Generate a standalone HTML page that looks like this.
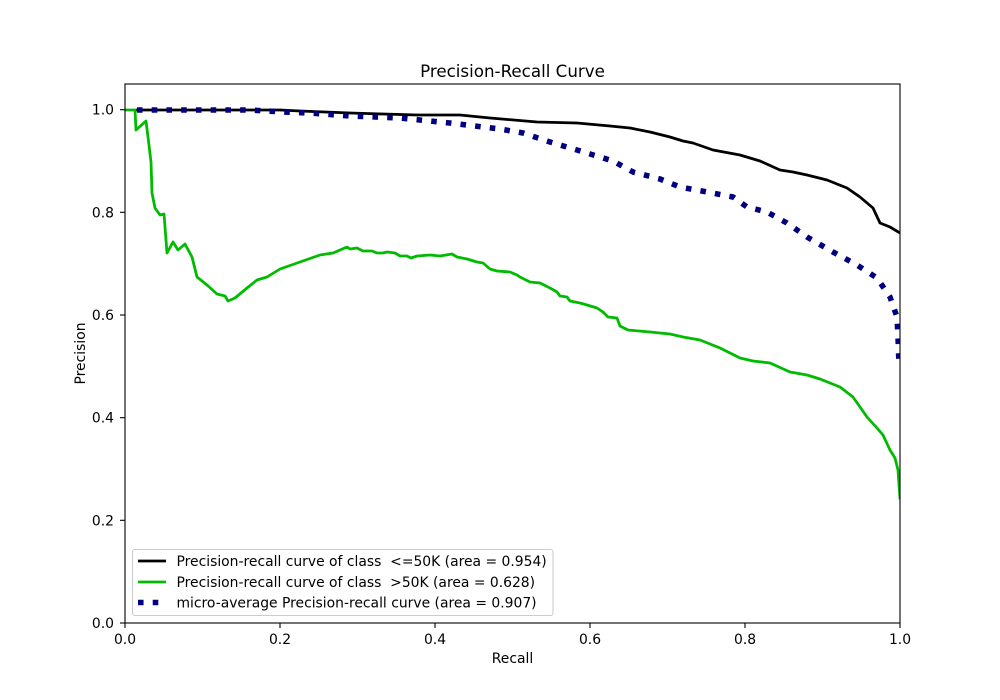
<!DOCTYPE html>
<html>
<head>
<meta charset="utf-8">
<style>
html,body{margin:0;padding:0;background:#fff;}
svg{display:block;}
text{font-family:"DejaVu Sans","Liberation Sans",sans-serif;fill:#000;}
</style>
</head>
<body>
<svg width="1000" height="700" viewBox="0 0 1000 700" xmlns="http://www.w3.org/2000/svg">
<rect x="0" y="0" width="1000" height="700" fill="#fff"/>
<defs>
<clipPath id="ax"><rect x="125" y="84" width="775" height="539"/></clipPath>
</defs>

<g clip-path="url(#ax)" fill="none" stroke-linejoin="round">
<!-- black <=50K -->
<polyline stroke="#000" stroke-width="2.78" stroke-linecap="square" points="137,110 200,110 280,110 300,111 350,113 383,114 417,115 460,115 490,118 537,122 577,123 610,126 630,128 650,132 670,137 683,141 693,143 713,150 740,155 760,161 780,170 793,172 807,175 827,180 847,188 860,197 873,208 880,223 890,227 900,233"/>
<!-- green >50K -->
<polyline stroke="#00bb00" stroke-width="2.78" stroke-linecap="square" points="125,110 135,110 136,130 146,121 148,137 151,162 152,193 155,208 160,215 164,214 167,253 173,242 178,250 185,244 192,257 197,277 207,285 217,294 225,296 228,301 235,298 247,288 257,280 267,277 280,269 300,262 320,255 333,253 347,247 350,249 357,248 363,251 372,251 377,253 383,253 387,252 395,253 400,256 407,256 411,258 417,256 430,255 440,256 452,254 457,257 467,259 477,262 483,263 490,269 497,271 510,272 517,275 520,277 530,282 540,283 550,288 557,292 560,296 567,297 570,301 580,303 587,305 597,308 603,312 608,317 617,318 620,326 628,330 650,332 670,334 683,337 700,340 720,348 740,358 753,361 770,363 790,372 807,375 820,379 840,387 853,397 867,417 877,428 883,435 890,450 895,458 898,470 899,485 900,498"/>
<!-- navy micro-average -->
<polyline stroke="#000080" stroke-width="5.56" stroke-linecap="butt" stroke-dasharray="5.56 9.17" points="137,110 250,110 283,112 310,113 350,116 400,118 450,123 483,127 500,129 523,133 550,142 577,150 600,157 613,161 633,172 660,179 680,187 707,192 733,197 747,207 767,212 787,223 807,237 833,252 857,265 877,278 890,297 897,317 898,337 899,365"/>
</g>

<!-- spines -->
<rect x="125" y="84" width="775" height="539" fill="none" stroke="#000" stroke-width="1.1"/>

<!-- x ticks -->
<g stroke="#000" stroke-width="1.1">
<line x1="125" y1="623" x2="125" y2="628"/>
<line x1="280" y1="623" x2="280" y2="628"/>
<line x1="435" y1="623" x2="435" y2="628"/>
<line x1="590" y1="623" x2="590" y2="628"/>
<line x1="745" y1="623" x2="745" y2="628"/>
<line x1="900" y1="623" x2="900" y2="628"/>
<!-- y ticks -->
<line x1="120" y1="623" x2="125" y2="623"/>
<line x1="120" y1="520.3" x2="125" y2="520.3"/>
<line x1="120" y1="417.7" x2="125" y2="417.7"/>
<line x1="120" y1="315" x2="125" y2="315"/>
<line x1="120" y1="212.3" x2="125" y2="212.3"/>
<line x1="120" y1="109.7" x2="125" y2="109.7"/>
</g>

<g font-size="13.9" text-anchor="middle">
<text x="125" y="644">0.0</text>
<text x="280" y="644">0.2</text>
<text x="435" y="644">0.4</text>
<text x="590" y="644">0.6</text>
<text x="745" y="644">0.8</text>
<text x="900" y="644">1.0</text>
</g>
<g font-size="13.9" text-anchor="end">
<text x="114" y="628">0.0</text>
<text x="114" y="525.3">0.2</text>
<text x="114" y="422.7">0.4</text>
<text x="114" y="320">0.6</text>
<text x="114" y="217.3">0.8</text>
<text x="114" y="114.7">1.0</text>
</g>

<text x="512.5" y="663" font-size="13.9" text-anchor="middle">Recall</text>
<text transform="translate(85,353.5) rotate(-90)" font-size="13.9" text-anchor="middle">Precision</text>
<text x="512.5" y="77" font-size="16.7" text-anchor="middle">Precision-Recall Curve</text>

<!-- legend -->
<rect x="132.5" y="549.5" width="420.5" height="66" rx="2.5" ry="2.5" fill="#fff" fill-opacity="0.8" stroke="#cccccc" stroke-width="1.1"/>
<line x1="138" y1="561" x2="166" y2="561" stroke="#000" stroke-width="2.78"/>
<line x1="138" y1="582" x2="166" y2="582" stroke="#00bb00" stroke-width="2.78"/>
<line x1="138" y1="602.5" x2="166" y2="602.5" stroke="#000080" stroke-width="5.56" stroke-dasharray="5.56 9.17"/>
<g font-size="13.9" style="white-space:pre" xml:space="preserve">
<text x="176.5" y="566" xml:space="preserve">Precision-recall curve of class  &lt;=50K (area = 0.954)</text>
<text x="176.5" y="587" xml:space="preserve">Precision-recall curve of class  &gt;50K (area = 0.628)</text>
<text x="176.5" y="607.5" xml:space="preserve">micro-average Precision-recall curve (area = 0.907)</text>
</g>
</svg>
</body>
</html>
